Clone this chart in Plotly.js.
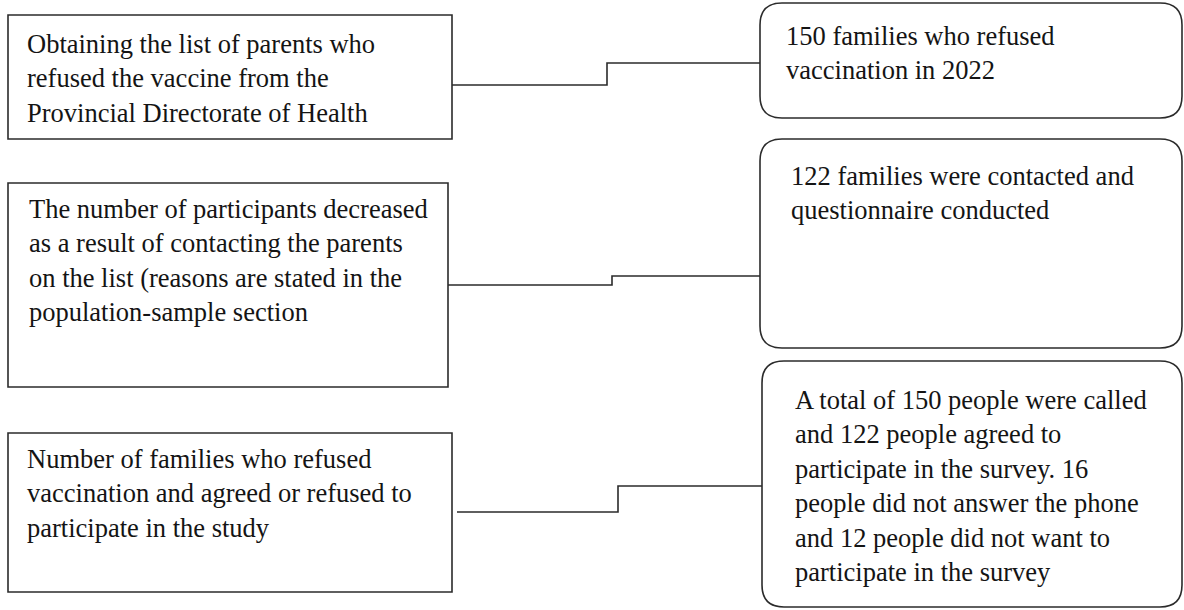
<!DOCTYPE html>
<html>
<head>
<meta charset="utf-8">
<script src="https://cdn.plot.ly/plotly-3.0.1.min.js"></script>
<style>
  html, body { margin: 0; padding: 0; background: #ffffff; }
  #chart { width: 1184px; height: 610px; }
</style>
</head>
<body>
<div id="chart"></div>
<script>
// ---- content (texts of the flow diagram) ----
var stepTexts = [
  "Obtaining the list of parents who<br>refused the vaccine from the<br>Provincial Directorate of Health",
  "The number of participants decreased<br>as a result of contacting the parents<br>on the list (reasons are stated in the<br>population-sample section",
  "Number of families who refused<br>vaccination and agreed or refused to<br>participate in the study"
];
var resultTexts = [
  "150 families who refused<br>vaccination in 2022",
  "122 families were contacted and<br>questionnaire conducted",
  "A total of 150 people were called<br>and 122 people agreed to<br>participate in the survey. 16<br>people did not answer the phone<br>and 12 people did not want to<br>participate in the survey"
];

// ---- geometry (layout only, in page pixels) ----
var leftBoxes = [
  {x0: 8, x1: 452, y0: 15, y1: 139, tx: 25, ty: 43},
  {x0: 8, x1: 448, y0: 183, y1: 387, tx: 27, ty: 208},
  {x0: 8, x1: 452, y0: 433, y1: 592, tx: 25, ty: 458}
];
var rightBoxes = [
  {x0: 760, x1: 1182, y0: 3, y1: 118, tx: 784, ty: 35},
  {x0: 760, x1: 1182, y0: 139, y1: 348, tx: 789, ty: 175},
  {x0: 762, x1: 1182, y0: 361, y1: 607, tx: 793, ty: 398}
];
var connectors = [
  {start: 452, yl: 85, xs: 607, yr: 63},
  {start: 448, yl: 285, xs: 612, yr: 276},
  {start: 457, yl: 512, xs: 618, yr: 486}
];
var radius = 22;
var fontSize = 26.5;
var lineGap = 35;
var lineColor = "#2b2b2b";
var textColor = "#141414";

function roundRect(b, r) {
  var x0 = b.x0, x1 = b.x1, y0 = b.y0, y1 = b.y1;
  return "M " + (x0 + r) + "," + y0 +
    " L " + (x1 - r) + "," + y0 +
    " Q " + x1 + "," + y0 + " " + x1 + "," + (y0 + r) +
    " L " + x1 + "," + (y1 - r) +
    " Q " + x1 + "," + y1 + " " + (x1 - r) + "," + y1 +
    " L " + (x0 + r) + "," + y1 +
    " Q " + x0 + "," + y1 + " " + x0 + "," + (y1 - r) +
    " L " + x0 + "," + (y0 + r) +
    " Q " + x0 + "," + y0 + " " + (x0 + r) + "," + y0 + " Z";
}

var shapes = [];
var annotations = [];

leftBoxes.forEach(function (b, i) {
  shapes.push({type: "rect", xref: "x", yref: "y", x0: b.x0, x1: b.x1, y0: b.y0, y1: b.y1,
    line: {color: lineColor, width: 1.6}, fillcolor: "rgba(0,0,0,0)"});
  var n = stepTexts[i].split("<br>").length;
  annotations.push({xref: "x", yref: "y", x: b.tx, y: b.ty + (n - 1) * lineGap / 2,
    xanchor: "left", yanchor: "middle", align: "left", showarrow: false,
    text: stepTexts[i], font: {family: "Liberation Serif, Times New Roman, serif", size: fontSize, color: textColor}});
});

rightBoxes.forEach(function (b, i) {
  shapes.push({type: "path", xref: "x", yref: "y", path: roundRect(b, radius),
    line: {color: lineColor, width: 1.6}, fillcolor: "rgba(0,0,0,0)"});
  var n = resultTexts[i].split("<br>").length;
  annotations.push({xref: "x", yref: "y", x: b.tx, y: b.ty + (n - 1) * lineGap / 2,
    xanchor: "left", yanchor: "middle", align: "left", showarrow: false,
    text: resultTexts[i], font: {family: "Liberation Serif, Times New Roman, serif", size: fontSize, color: textColor}});
});

connectors.forEach(function (c, i) {
  var end = rightBoxes[i].x0;
  shapes.push({type: "path", xref: "x", yref: "y",
    path: "M " + c.start + "," + c.yl + " L " + c.xs + "," + c.yl + " L " + c.xs + "," + c.yr + " L " + end + "," + c.yr,
    line: {color: lineColor, width: 1.6}});
});

var layout = {
  width: 1184, height: 610,
  margin: {l: 0, r: 0, t: 0, b: 0, pad: 0},
  paper_bgcolor: "#ffffff", plot_bgcolor: "#ffffff",
  showlegend: false,
  xaxis: {range: [0, 1184], visible: false, fixedrange: true},
  yaxis: {range: [610, 0], visible: false, fixedrange: true},
  shapes: shapes,
  annotations: annotations
};

Plotly.newPlot("chart", [], layout, {displayModeBar: false, staticPlot: true});
</script>
</body>
</html>
